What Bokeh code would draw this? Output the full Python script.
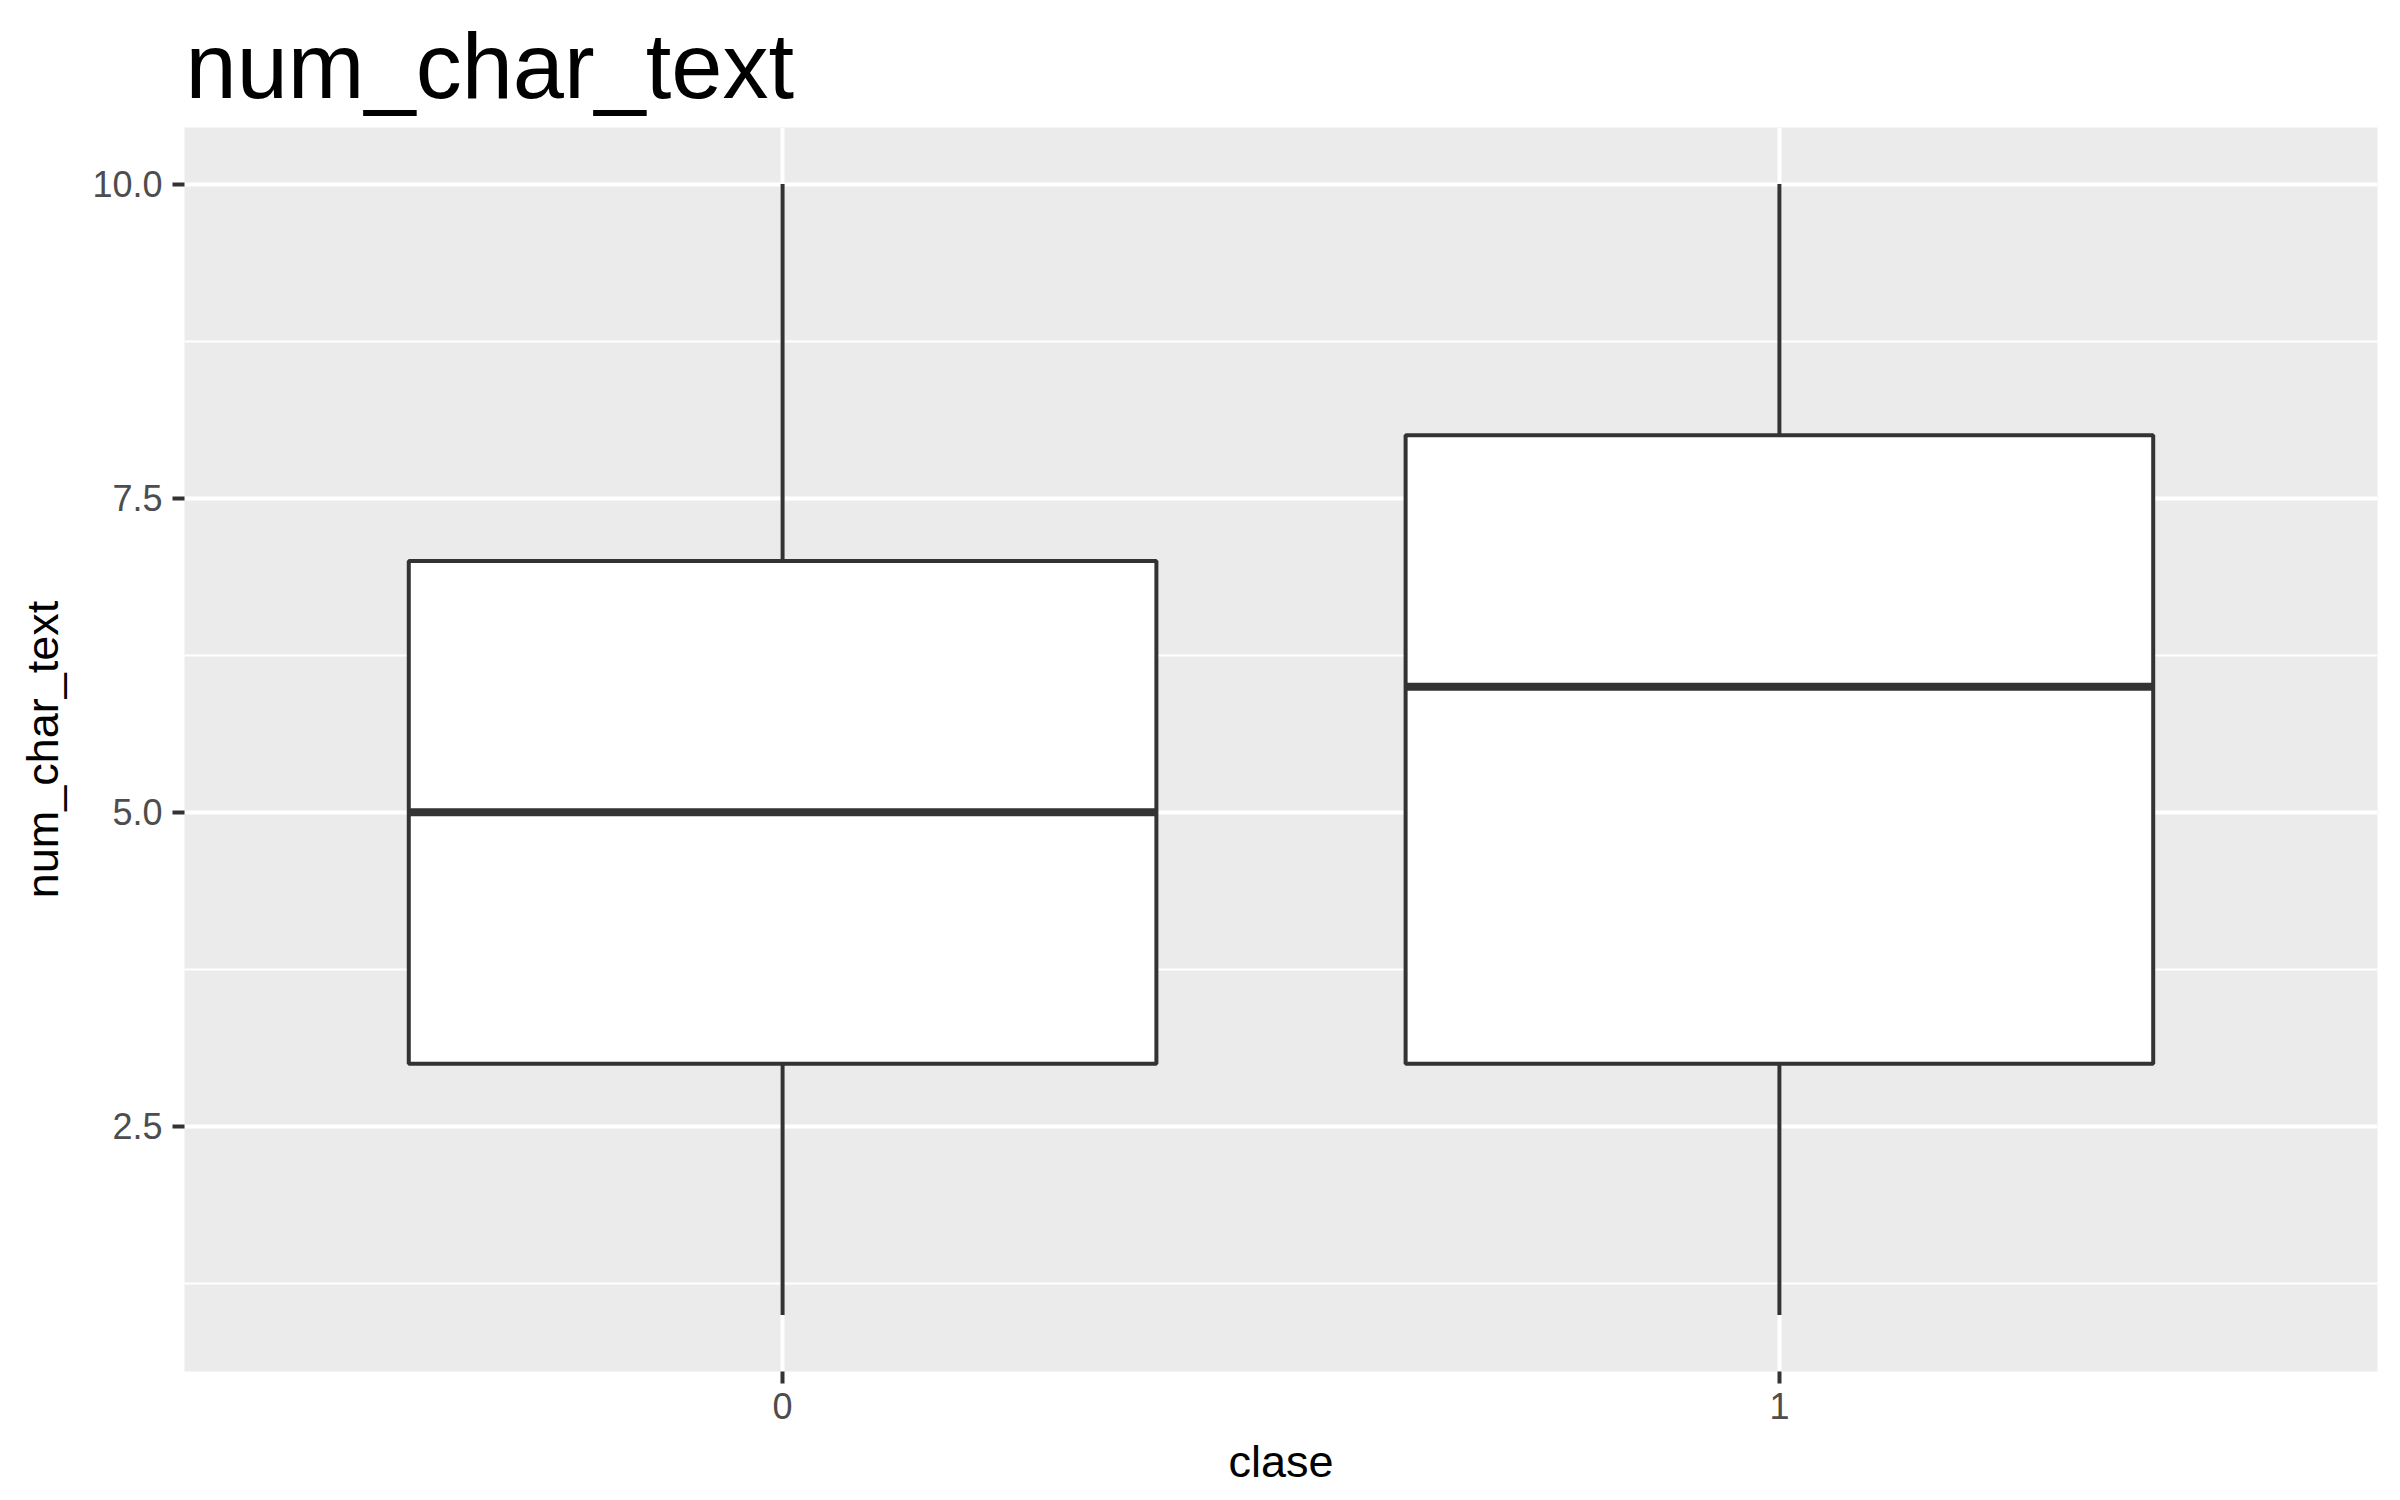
from bokeh.plotting import figure
from bokeh.models import FactorRange, Range1d, FixedTicker, ColumnDataSource
from bokeh.transform import dodge
from bokeh.embed import file_html
from bokeh.resources import INLINE

# Data
categories = ["0", "1"]
whisker_low = [1, 1]
q1 = [3, 3]
median = [5, 6]
q3 = [7, 8]
whisker_high = [10, 10]
y_ticks = [2.5, 5.0, 7.5, 10.0]
y_minor_ticks = [1.25, 3.75, 6.25, 8.75]
y_tick_labels = ["2.5", "5.0", "7.5", "10.0"]

FONT = "Liberation Sans"
DARK = "#333333"

src = ColumnDataSource(dict(cat=categories, lo=whisker_low, q1=q1, med=median,
                            q3=q3, hi=whisker_high))

p = figure(width=2400, height=1500, output_backend="svg", toolbar_location=None,
           x_range=FactorRange(*categories, range_padding=0.1,
                               range_padding_units="absolute"),
           y_range=Range1d(0.55, 10.45),
           title="num_char_text",
           min_border_left=184, min_border_right=23,
           min_border_top=127, min_border_bottom=129)

p.background_fill_color = "#EBEBEB"
p.border_fill_color = "white"
p.outline_line_color = None

# Title
p.title.text_font = FONT
p.title.text_font_size = "92px"
p.title.text_font_style = "normal"
p.title.text_color = "black"
p.title.align = "left"
p.title.offset = 1
p.title.standoff = 22

# Grid
p.xgrid.grid_line_color = "white"
p.xgrid.grid_line_width = 4
p.ygrid.grid_line_color = "white"
p.ygrid.grid_line_width = 4
p.ygrid.minor_grid_line_color = "white"
p.ygrid.minor_grid_line_width = 2

# Y axis
p.yaxis.ticker = FixedTicker(ticks=y_ticks, minor_ticks=y_minor_ticks)
p.yaxis.major_label_overrides = {t: l for t, l in zip(y_ticks, y_tick_labels)}
p.yaxis.axis_label = "num_char_text"

for ax in (p.xaxis, p.yaxis):
    ax.axis_line_color = None
    ax.major_tick_line_color = DARK
    ax.major_tick_line_width = 4
    ax.major_tick_out = 12
    ax.major_tick_in = 0
    ax.minor_tick_line_color = None
    ax.major_label_text_font = FONT
    ax.major_label_text_font_size = "36px"
    ax.major_label_text_color = "#4D4D4D"
    ax.axis_label_text_font = FONT
    ax.axis_label_text_font_size = "45px"
    ax.axis_label_text_font_style = "normal"
    ax.axis_label_text_color = "black"

p.xaxis.axis_label = "clase"
p.xaxis.major_label_standoff = 9
p.xaxis.axis_label_standoff = 14
p.yaxis.major_label_standoff = 10
p.yaxis.axis_label_standoff = 21

# Whiskers
p.segment(x0="cat", y0="lo", x1="cat", y1="q1", source=src,
          line_color=DARK, line_width=4)
p.segment(x0="cat", y0="q3", x1="cat", y1="hi", source=src,
          line_color=DARK, line_width=4)
# Boxes
p.vbar(x="cat", width=0.75, bottom="q1", top="q3", source=src,
       fill_color="white", line_color=DARK, line_width=4)
# Medians
p.segment(x0=dodge("cat", -0.375, range=p.x_range), y0="med",
          x1=dodge("cat", 0.375, range=p.x_range), y1="med", source=src,
          line_color=DARK, line_width=8, line_cap="butt")

open("out.html", "w").write(file_html(p, INLINE))
